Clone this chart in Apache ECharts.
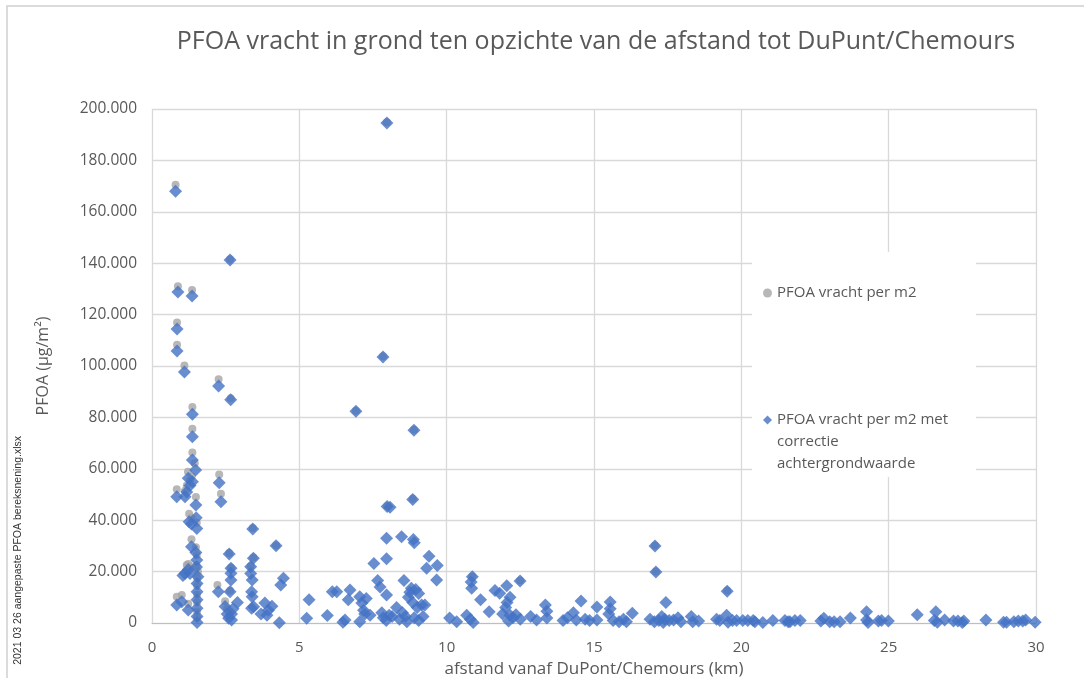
<!DOCTYPE html>
<html>
<head>
<meta charset="utf-8">
<script src="https://cdn.jsdelivr.net/npm/echarts@6/dist/echarts.min.js"></script>
<style>html,body{margin:0;padding:0;background:#fff}#c{width:1084px;height:678px}</style>
</head>
<body>
<div id="c"></div>
<script>
// afstand (km), PFOA (x 1000 µg/m²)
const seriesNames = ['PFOA vracht per m2', 'PFOA vracht per m2 met correctie achtergrondwaarde'];
const yTicks = [0, 20000, 40000, 60000, 80000, 100000, 120000, 140000, 160000, 180000, 200000];
const xTicks = [0, 5, 10, 15, 20, 25, 30];

const raw = [
[0.80,170.5],[0.88,131.0],[1.36,129.6],[0.85,116.9],[0.85,108.3],[1.10,100.2],[2.26,94.8],[2.67,87.5],[2.65,141.5],
[1.37,84.0],[1.37,75.6],[1.37,66.3],[1.45,62.2],[1.22,58.9],[1.35,57.0],[1.29,55.5],[1.18,53.5],[0.84,52.0],[1.12,51.5],
[2.28,57.8],[2.34,50.3],[1.49,49.0],[1.26,42.5],[1.34,41.0],[1.52,39.0],[3.42,37.0],[1.34,32.6],[1.49,29.5],[1.52,26.5],
[2.62,27.2],[3.44,25.5],[1.18,22.6],[1.29,22.0],[1.23,23.0],[1.51,22.5],[1.56,20.0],[2.68,21.6],[3.35,22.2],[1.53,17.5],
[2.22,14.8],[2.65,12.6],[1.53,14.5],[0.84,10.2],[1.01,10.9],[1.23,7.5],[1.53,11.0],[1.53,8.0],[1.53,4.5],[1.53,2.0],
[2.48,8.5],[2.55,5.5],[4.21,30.3],[6.92,82.6],[7.84,103.8],[7.97,194.8],[8.89,75.2],[7.98,45.5],[8.85,48.3],
[17.07,30.2],[17.10,20.0],[19.52,12.6],[10.87,18.2],[12.49,16.5]
];

const corrected = [
[0.80,168.0],[0.88,128.8],[1.36,127.2],[0.85,114.4],[0.85,105.8],[1.10,97.7],[2.26,92.2],[2.67,86.9],[2.65,141.2],
[1.37,81.2],[1.37,72.5],[1.37,63.4],[1.48,59.5],[1.23,56.3],[1.37,55.0],[1.29,53.5],[1.18,51.0],[0.84,49.1],[1.12,49.1],
[2.28,54.6],[2.34,47.2],[1.49,45.9],[1.26,39.4],[1.34,38.5],[1.52,36.8],[1.50,41.0],[3.42,36.6],[1.34,29.7],[1.49,27.4],
[1.52,24.5],[2.62,26.8],[3.44,25.2],[1.12,19.3],[1.29,19.3],[1.23,20.8],[1.05,18.5],[1.51,21.8],[1.56,18.0],[2.68,21.3],
[2.68,19.4],[2.68,16.7],[3.35,21.9],[3.35,19.3],[3.40,16.7],[1.53,15.4],[2.25,12.2],[2.65,12.2],[1.53,12.2],[3.38,12.2],
[0.84,7.0],[1.01,8.3],[1.23,5.1],[1.53,9.0],[1.53,5.7],[1.53,2.5],[1.53,0.2],[2.48,6.4],[2.55,3.5],[2.70,3.5],[2.90,8.0],
[2.75,5.5],[2.60,1.8],[2.70,1.2],[3.38,5.7],[3.40,10.2],[3.45,6.3],[3.83,7.8],[3.95,5.0],[4.07,6.5],[3.70,3.5],[3.90,3.0],
[4.21,30.1],[4.46,17.4],[4.37,14.8],[4.32,0.1],
[5.33,9.0],[5.25,1.8],[5.95,2.9],[6.12,12.2],[6.27,12.2],[6.55,1.2],[6.48,0.3],[6.72,12.8],[6.66,9.0],[6.92,82.4],
[7.05,10.2],[7.12,7.8],[7.18,5.0],[7.22,3.5],[7.05,0.5],[7.27,9.5],[7.40,3.0],[7.53,23.2],[7.66,16.5],[7.74,14.0],
[7.84,103.5],[7.97,194.6],[7.98,45.3],[8.08,45.0],[7.96,33.0],[7.96,25.0],[7.96,10.9],[7.80,4.0],[7.85,2.0],[7.95,1.0],
[8.05,3.0],[8.15,2.5],[8.30,6.0],[8.47,33.6],[8.55,16.5],[8.50,4.0],[8.40,1.5],[8.60,2.5],[8.65,0.5],[8.89,75.0],
[8.85,48.1],[8.87,32.5],[8.90,31.2],[8.70,10.0],[8.75,12.0],[8.80,13.5],[8.95,13.0],[9.05,11.5],[8.85,8.0],[9.00,6.0],
[9.15,7.0],[9.26,7.0],[8.90,2.0],[9.05,1.0],[9.20,2.5],[9.40,26.0],[9.32,21.3],[9.68,22.4],[9.66,16.7],[10.10,1.9],
[10.34,0.5],[10.68,3.0],[10.80,1.5],[10.90,0.2],[10.87,18.0],[10.83,16.0],[10.85,13.5],[11.15,9.0],[11.44,4.4],
[11.64,12.6],[11.80,11.6],[12.04,14.5],[12.49,16.3],[12.15,10.0],[12.05,8.0],[12.00,6.0],[11.90,3.5],[12.15,3.0],
[12.35,3.2],[12.50,1.5],[12.10,0.8],[12.25,2.0],[13.05,1.2],[12.85,2.5],[13.35,7.0],[13.40,4.6],[13.40,1.9],[13.95,1.0],
[14.10,2.0],[14.30,4.0],[14.40,1.2],[14.56,8.6],[14.70,1.5],[14.85,1.0],[15.10,6.2],[15.10,1.2],[15.55,8.2],[15.55,5.5],
[15.50,3.5],[15.65,1.0],[15.85,0.5],[16.00,1.5],[16.30,3.8],[16.10,0.5],[16.90,1.5],[17.07,30.0],[17.10,19.8],[17.05,0.5],
[17.20,1.0],[17.30,2.5],[17.40,1.5],[17.35,0.2],[17.44,8.0],[17.55,1.0],[17.70,1.2],[17.85,2.0],[17.95,0.5],[18.30,2.5],
[18.35,0.5],[18.55,0.8],[19.16,1.5],[19.27,1.0],[19.50,3.0],[19.52,12.4],[19.55,0.3],[19.70,1.0],[19.84,1.0],[20.05,1.0],
[20.22,1.0],[20.40,1.0],[20.46,0.5],[20.73,0.2],[21.07,1.0],[21.48,1.0],[21.59,0.5],[21.65,0.5],[21.82,1.0],[22.00,1.0],
[22.70,0.8],[22.80,1.8],[23.00,0.5],[23.15,0.5],[23.35,0.5],[23.70,1.9],[24.25,4.4],[24.25,1.2],[24.30,0.2],[24.65,0.8],
[24.76,1.0],[24.99,0.8],[25.97,3.2],[26.60,4.4],[26.55,1.0],[26.65,0.3],[26.90,1.2],[27.20,0.8],[27.35,0.8],[27.50,0.2],
[27.55,0.8],[28.30,1.2],[28.90,0.3],[29.00,0.3],[29.25,0.5],[29.40,0.8],[29.55,0.8],[29.65,1.2],[29.97,0.3]
];

const toUnits = arr => arr.map(p => [p[0], p[1] * 1000]);
const fmt = v => v === 0 ? '0' : String(v).replace(/\B(?=(\d{3})+(?!\d))/g, '.');
const FONT = '"Open Sans", "Liberation Sans", sans-serif';
const TXT = '#595959';

const chart = echarts.init(document.getElementById('c'), null, {renderer: 'canvas'});
chart.setOption({
  animation: false,
  backgroundColor: '#fff',
  title: {
    text: 'PFOA vracht in grond ten opzichte van de afstand tot DuPunt/Chemours',
    left: 591, top: 24, textAlign: 'center',
    textStyle: {fontFamily: FONT, fontSize: 25, fontWeight: 'normal', color: TXT}
  },
  grid: {left: 152, right: 48, top: 109, bottom: 55, outerBoundsMode: 'none', containLabel: false},
  xAxis: {
    type: 'value', min: xTicks[0], max: xTicks[xTicks.length - 1], interval: 5,
    name: 'afstand vanaf DuPont/Chemours (km)', nameLocation: 'middle', nameGap: 38,
    nameMoveOverlap: false,
    nameTextStyle: {fontFamily: FONT, fontSize: 17, color: TXT},
    axisLine: {lineStyle: {color: '#bfbfbf'}}, axisTick: {show: false},
    axisLabel: {fontFamily: FONT, fontSize: 15, color: TXT, margin: 17},
    splitLine: {lineStyle: {color: '#d9d9d9', width: 1.3}}
  },
  yAxis: {
    type: 'value', min: yTicks[0], max: yTicks[yTicks.length - 1], interval: 20000,
    name: 'PFOA (µg/m²)', nameLocation: 'middle', nameGap: 101, nameRotate: 90,
    nameMoveOverlap: false,
    nameTextStyle: {fontFamily: FONT, fontSize: 16, color: TXT},
    axisLine: {show: false}, axisTick: {show: false},
    axisLabel: {fontFamily: FONT, fontSize: 15.5, color: TXT, margin: 15, formatter: fmt},
    splitLine: {lineStyle: {color: '#d9d9d9', width: 1.3}}
  },
  legend: {
    orient: 'vertical', left: 752, top: 252,
    padding: [30, 28, 2, 11], itemGap: 61,
    itemWidth: 9, itemHeight: 9,
    backgroundColor: '#fff',
    textStyle: {fontFamily: FONT, fontSize: 15, color: TXT, lineHeight: 22},
    data: [{name: seriesNames[0], icon: 'circle'}, {name: seriesNames[1], icon: 'diamond'}],
    formatter: n => n === seriesNames[1] ? '\n\nPFOA vracht per m2 met\ncorrectie\nachtergrondwaarde' : n
  },
  graphic: [
    {type: 'rect', silent: true, z: -10, shape: {x: 7, y: 6, width: 1200, height: 800},
     style: {fill: 'none', stroke: '#d0d0d0', lineWidth: 1.5}},
    {type: 'text', left: 13, top: 436, rotation: Math.PI / 2, z: 10,
     style: {text: '2021 03 26 aangepaste PFOA bereksnening.xlsx', font: '10.5px "Liberation Sans", sans-serif', fill: '#333'}}
  ],
  series: [
    {name: seriesNames[0], type: 'scatter', symbol: 'circle', symbolSize: 8,
     itemStyle: {color: '#a5a5a5'}, data: toUnits(raw)},
    {name: seriesNames[1], type: 'scatter', symbol: 'diamond', symbolSize: 13,
     itemStyle: {color: '#4472c4'}, data: toUnits(corrected)}
  ]
});
</script>
</body>
</html>
